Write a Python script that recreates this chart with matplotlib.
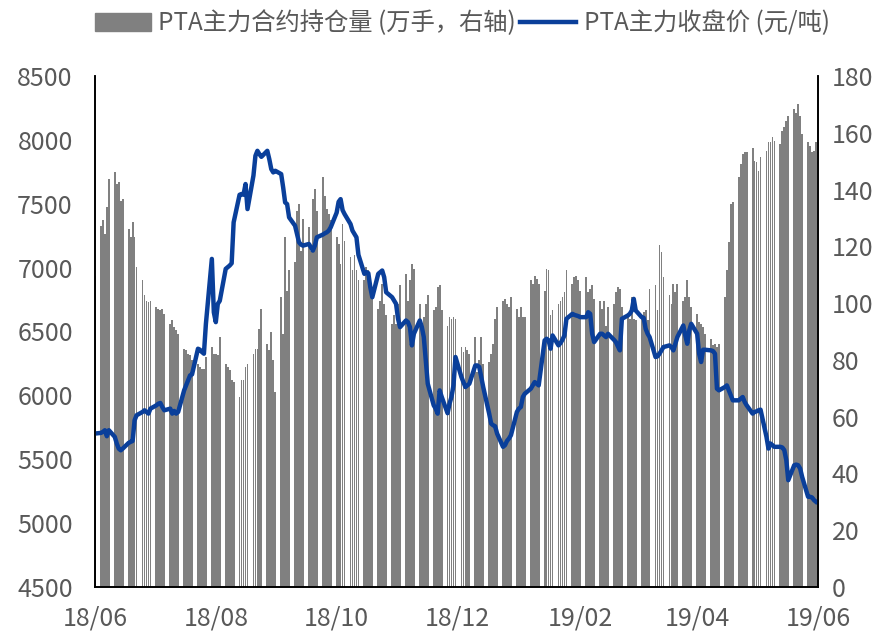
import matplotlib.pyplot as plt
import matplotlib.dates as mdates
from matplotlib.patches import Patch
from matplotlib.lines import Line2D
import pandas as pd

plt.rcParams['font.family'] = ['Noto Sans CJK SC', 'DejaVu Sans']

# trading days (weekdays) 2018-06-01 .. 2019-05-31
dates = pd.bdate_range('2018-06-01', '2019-05-31')

# PTA main contract open interest (10k lots, right axis), one list per month
oi_jun = [109.7, 127.3, 129.1, 124.4, 133.7, 143.7, 146.0, 142.0, 142.5, 136.0, 136.7,
          126.1, 123.2, 128.5, 123.2, 112.7, 108.0, 102.7, 100.9, 100.3, 100.9]
oi_jul = [98.6, 98.0, 97.4, 98.0, 96.2, 92.7, 93.9, 91.6, 90.4, 89.2, 84.0,
          83.4, 82.2, 81.6, 79.8, 78.7, 77.5, 76.9, 76.9, 81.0, 84.5, 82.2]
oi_aug = [82.2, 81.6, 88.0, 78.7, 77.5, 76.3, 72.8, 72.2, 67.0, 72.8, 72.8, 77.5,
          78.7, 82.2, 83.9, 83.9, 91.0, 98.0, 85.7, 83.4, 89.8, 79.8, 68.7]
oi_sep = [102.1, 89.2, 123.2, 104.4, 111.5, 114.4, 132.6, 134.9, 118.5, 129.6,
          126.7, 118.5, 136.7, 140.2, 132.6, 144.3, 137.8, 133.2, 131.4, 129.1]
oi_oct = [123.2, 120.9, 113.8, 127.9, 122.0, 116.2, 111.5, 116.8, 111.5, 108.0, 108.0, 112.7,
          111.5, 105.6, 102.1, 98.0, 100.9, 106.8, 99.8, 95.7, 92.7, 95.7, 92.7]
oi_nov = [99.8, 106.2, 110.3, 100.9, 108.0, 113.8, 112.1, 99.8, 92.7, 95.1, 99.8,
          102.7, 97.4, 98.6, 105.6, 106.2, 97.4, 92.1, 95.1, 94.5, 95.1, 94.5]
oi_dec = [84.5, 82.8, 84.5, 83.4, 82.2, 88.0, 75.7, 79.8, 88.0, 78.7, 79.3,
          82.2, 85.7, 94.5, 98.6, 100.9, 101.5, 99.8, 98.6, 102.1, 98.0]
oi_jan = [95.1, 98.6, 95.1, 95.1, 108.0, 106.8, 109.7, 108.6, 106.8, 104.4, 112.1, 111.5,
          95.7, 97.4, 99.8, 100.9, 102.1, 103.9, 111.5, 106.8, 109.1, 109.7, 108.0]
oi_feb = [104.4, 109.1, 103.9, 105.0, 106.2, 101.5, 100.9, 98.0, 100.9, 92.0,
          98.6, 99.8, 103.9, 105.6, 105.0, 98.6, 95.1, 94.5, 102.1, 94.5]
oi_mar = [93.9, 94.5, 96.8, 97.4, 93.9, 105.0, 106.2, 97.4, 120.3, 118.0, 109.1,
          102.7, 99.8, 106.8, 103.9, 106.8, 100.9, 102.1, 108.0, 102.1, 98.6]
oi_apr = [96.2, 93.3, 92.7, 91.6, 89.2, 87.5, 85.1, 85.7, 84.5, 85.7, 102.1,
          111.5, 121.4, 134.9, 135.5, 144.3, 149.0, 152.5, 153.1, 153.1, 154.8, 150.2]
oi_may = [149.6, 146.6, 151.3, 153.7, 156.6, 156.6, 158.4, 157.2, 156.0, 160.7, 161.9, 164.2,
          166.0, 168.3, 167.1, 170.1, 166.0, 159.5, 156.6, 155.4, 153.1, 153.7, 156.6]

# PTA main contract close (yuan/ton, left axis)
px_jun = [5701, 5706, 5714, 5727, 5680, 5727, 5675, 5623, 5583, 5570, 5583,
          5628, 5636, 5643, 5805, 5844, 5870, 5883, 5870, 5857, 5896]
px_jul = [5922, 5935, 5940, 5909, 5883, 5896, 5857, 5878, 5857, 5870, 6039,
          6078, 6117, 6156, 6164, 6365, 6357, 6339, 6326, 6560, 7068, 6650]
px_aug = [6573, 6716, 6740, 6990, 7003, 7016, 7034, 7354, 7570, 7576, 7570, 7654,
          7458, 7720, 7875, 7914, 7888, 7867, 7914, 7849, 7771, 7745, 7758]
px_sep = [7732, 7628, 7510, 7497, 7393, 7328, 7263, 7198, 7180, 7172,
          7185, 7159, 7133, 7172, 7237, 7258, 7268, 7276, 7289, 7315]
px_oct = [7430, 7515, 7536, 7450, 7419, 7341, 7289, 7263, 7237, 7100, 6951, 6964,
          6956, 6846, 6768, 6951, 6964, 6977, 6925, 6807, 6768, 6742, 6716]
px_nov = [6599, 6534, 6586, 6573, 6534, 6391, 6482, 6586, 6534, 6456, 6274,
          6091, 5922, 5896, 5857, 6039, 5990, 5860, 5935, 5990, 6080, 6300]
px_dec = [6143, 6104, 6065, 6078, 6091, 6234, 6234, 6222, 6143, 6065, 5857,
          5779, 5766, 5758, 5701, 5597, 5610, 5643, 5662, 5688, 5870]
px_jan = [5896, 5909, 5987, 6013, 6052, 6078, 6104, 6091, 6078, 6430, 6443, 6430,
          6365, 6469, 6391, 6409, 6435, 6469, 6599, 6638, 6630, 6625, 6620]
px_feb = [6612, 6612, 6651, 6638, 6482, 6417, 6482, 6482, 6469, 6456,
          6482, 6435, 6417, 6383, 6352, 6599, 6625, 6638, 6664, 6755]
px_mar = [6664, 6612, 6607, 6521, 6482, 6456, 6300, 6305, 6326, 6352, 6378,
          6391, 6378, 6352, 6404, 6456, 6547, 6469, 6404, 6508, 6560]
px_apr = [6482, 6326, 6261, 6357, 6357, 6352, 6347, 6326, 6052, 6039, 6065,
          6078, 6039, 6000, 5961, 5961, 5974, 5987, 5948, 5922, 5857, 5870]
px_may = [5875, 5883, 5888, 5675, 5583, 5623, 5610, 5597, 5597, 5592, 5571, 5493,
          5336, 5453, 5458, 5453, 5427, 5362, 5206, 5206, 5201, 5180, 5167]

open_interest = (oi_jun + oi_jul + oi_aug + oi_sep + oi_oct + oi_nov +
                 oi_dec + oi_jan + oi_feb + oi_mar + oi_apr + oi_may)
close_price = (px_jun + px_jul + px_aug + px_sep + px_oct + px_nov +
               px_dec + px_jan + px_feb + px_mar + px_apr + px_may)

bar_color = '#808080'
line_color = '#0A3F9A'
txt_color = '#595959'

fig = plt.figure(figsize=(8.77, 6.33), dpi=100)
ax = fig.add_axes([0.1083, 0.0727, 0.8244, 0.8073])

ax.bar(dates, open_interest, width=0.9, color=bar_color, zorder=1)
ax.set_ylim(0, 180)
ax.set_yticks(range(0, 181, 20))

ax2 = ax.twinx()
ax2.plot(dates, close_price, color=line_color, lw=3.2, solid_joinstyle='round')
ax2.set_ylim(4500, 8500)
ax2.set_yticks(range(4500, 8501, 500))

# bars read on the right, price on the left
ax.yaxis.tick_right()
ax2.yaxis.tick_left()

ax.set_xlim(pd.Timestamp('2018-06-01'), pd.Timestamp('2019-06-01'))
ax.xaxis.set_major_locator(mdates.MonthLocator(bymonth=[2, 4, 6, 8, 10, 12]))
ax.xaxis.set_major_formatter(mdates.DateFormatter('%y/%m'))

for a in (ax, ax2):
    a.spines['top'].set_visible(False)
    for s in ('left', 'right', 'bottom'):
        a.spines[s].set_color('black')
        a.spines[s].set_linewidth(1.2)

ax.tick_params(axis='x', length=0, pad=13, labelsize=18, labelcolor=txt_color)
ax.tick_params(axis='y', length=0, pad=10, labelsize=18, labelcolor=txt_color)
ax2.tick_params(axis='y', length=0, pad=16, labelsize=18, labelcolor=txt_color)

handles = [Patch(color=bar_color), Line2D([0], [0], color=line_color, lw=3.2)]
labels = ['PTA主力合约持仓量 (万手，右轴)', 'PTA主力收盘价 (元/吨)']
leg = fig.legend(handles, labels, loc='center', bbox_to_anchor=(0.527, 0.963), ncol=2,
                 frameon=False, fontsize=17.5, handlelength=2.3, handleheight=0.75,
                 handletextpad=0.3, columnspacing=0.2)
for t in leg.get_texts():
    t.set_color(txt_color)

fig.savefig('out.png', dpi=100)
